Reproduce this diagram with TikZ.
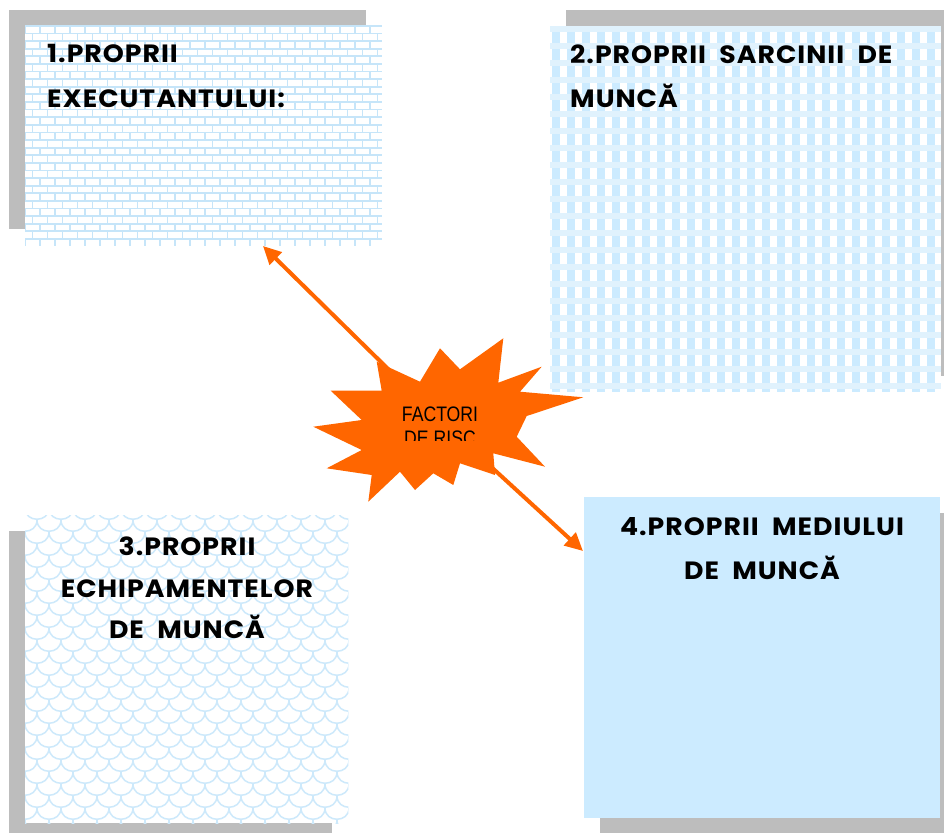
\documentclass[tikz,border=0pt]{standalone}
\usepackage{fontspec}
\setmainfont{Poppins}
\newfontfamily\boxfont[FakeStretch=1.07,LetterSpace=4,WordSpace=2]{Poppins}
\newfontfamily\narrowfont[FakeStretch=0.84]{Liberation Sans}
\usetikzlibrary{arrows.meta}
\definecolor{lb}{HTML}{CCEBFF}
\definecolor{lbband}{HTML}{E0F2FD}
\definecolor{mortar}{HTML}{C6E5F9}
\definecolor{scaleln}{HTML}{CDE9FB}
\definecolor{shade}{HTML}{BDBDBD}
\definecolor{orng}{HTML}{FF6600}
\begin{document}
\begin{tikzpicture}[x=1pt,y=-1pt,
  shadowbox/.style={fill=shade,draw=none},
  panel/.style={rectangle,draw=none,inner sep=0pt,anchor=north west},
  boxtext/.style={font=\boxfont\bfseries\fontsize{25}{30}\selectfont,inner sep=0pt,text=black},
  startext/.style={font=\narrowfont\fontsize{21}{24}\selectfont,inner sep=0pt,text=black},
  link/.style={draw=orng,line width=4pt,-{Triangle[length=18pt,width=17pt]}}
]
\useasboundingbox (0,0) rectangle (944,832);

% panels (positions)
\node[panel,minimum width=357pt,minimum height=219pt] (b1) at (25,26) {};
\node[panel,minimum width=391pt,minimum height=366pt] (b2) at (550,26) {};
\node[panel,minimum width=323pt,minimum height=308pt] (b3) at (25,515) {};
\node[panel,minimum width=356pt,minimum height=321pt] (b4) at (584,497) {};

% shadows
\fill[shadowbox] ([shift={(-16,-16)}]b1.north west) rectangle ([shift={(-16,-16)}]b1.south east);
\fill[shadowbox] ([shift={(16,-16)}]b2.north west) rectangle ([shift={(16,-16)}]b2.south east);
\fill[shadowbox] ([shift={(-16,16)}]b3.north west) rectangle ([shift={(-16,16)}]b3.south east);
\fill[shadowbox] ([shift={(16,16)}]b4.north west) rectangle ([shift={(16,16)}]b4.south east);

% box 1 : bricks
\begin{scope}
\clip (b1.north west) rectangle (b1.south east);
\fill[white] (b1.north west) rectangle (b1.south east);
\foreach \r in {0,...,29}{
  \pgfmathsetmacro\yy{26+\r*7.6}
  \pgfmathsetmacro\off{mod(\r,2)*7.5}
  \draw[mortar,line width=1.8pt] (25,\yy) -- (382,\yy);
  \foreach \k in {-1,...,24}{
    \draw[mortar,line width=1.8pt] ({25+\off+\k*15},\yy) -- ++(0,7.6);
  }
}
\end{scope}

% box 2 : plaid
\begin{scope}
\clip (b2.north west) rectangle (b2.south east);
\fill[white] (b2.north west) rectangle (b2.south east);
\foreach \k in {0,...,26}{
  \fill[lb] ({552+\k*15},26) rectangle ++(7.5,366);
}
\foreach \r in {0,...,21}{
  \fill[lbband] (550,{26+\r*17}) rectangle ++(391,6);
}
\end{scope}

% box 3 : scales
\begin{scope}
\clip (b3.north west) rectangle (b3.south east);
\fill[white] (b3.north west) rectangle (b3.south east);
\foreach \r in {0,...,26}{
  \pgfmathsetmacro\yy{508+\r*12}
  \pgfmathsetmacro\off{mod(\r,2)*12}
  \foreach \k in {-1,...,14}{
    \pgfmathsetmacro\xx{25+\off+\k*24}
    \draw[scaleln,line width=1.5pt] (\xx,\yy) .. controls (\xx,\yy+15) and (\xx+24,\yy+15) .. (\xx+24,\yy);
  }
}
\end{scope}

% box 4 : plain
\fill[lb] (b4.north west) rectangle (b4.south east);

% star centre and connectors
\node[inner sep=0pt,minimum size=0pt] (star) at (440,420) {};
\coordinate (tip1) at (263,246);
\coordinate (tip2) at (583,551);
\draw[link] (star.center) -- (tip1);
\draw[link] (star.center) -- (tip2);

% star shape
\fill[orng] (313.3,426.7) -- (361.7,420) -- (330.7,390.7) -- (381.7,390.7) -- (376.7,361.7)
  -- (420,381.7) -- (440,348.3) -- (460,369.3) -- (503.3,338.3) -- (498.3,382.7)
  -- (541.7,366.7) -- (520,391.7) -- (583.3,397.3) -- (526.7,416) -- (516.7,436.7)
  -- (545,466.7) -- (493.3,453.3) -- (495,475) -- (460,463.3) -- (453.3,485)
  -- (433.3,473.3) -- (415,490) -- (400,471.7) -- (368.3,501.7) -- (371.7,475)
  -- (326.7,468.3) -- (361.7,450) -- cycle;

\begin{scope}
\clip (380,395) rectangle (500,440);
\node[startext,anchor=base] (s1) at (440,421) {FACTORI};
\node[startext,anchor=base] (s2) at (440,445) {DE RISC};
\end{scope}

% texts
\node[boxtext,anchor=base west] (t1a) at (47,63) {1.PROPRII};
\node[boxtext,anchor=base west] (t1b) at (47,108) {EXECUTANTULUI:};
\node[boxtext,anchor=base west] (t2a) at (570,64) {2.PROPRII SARCINII DE};
\node[boxtext,anchor=base west] (t2b) at (570,108) {MUNCĂ};
\node[boxtext,anchor=base] (t3a) at (187,555) {3.PROPRII};
\node[boxtext,anchor=base] (t3b) at (187,597) {ECHIPAMENTELOR};
\node[boxtext,anchor=base] (t3c) at (187,638) {DE MUNCĂ};
\node[boxtext,anchor=base] (t4a) at (762,535) {4.PROPRII MEDIULUI};
\node[boxtext,anchor=base] (t4b) at (762,579) {DE MUNCĂ};
\end{tikzpicture}
\end{document}
